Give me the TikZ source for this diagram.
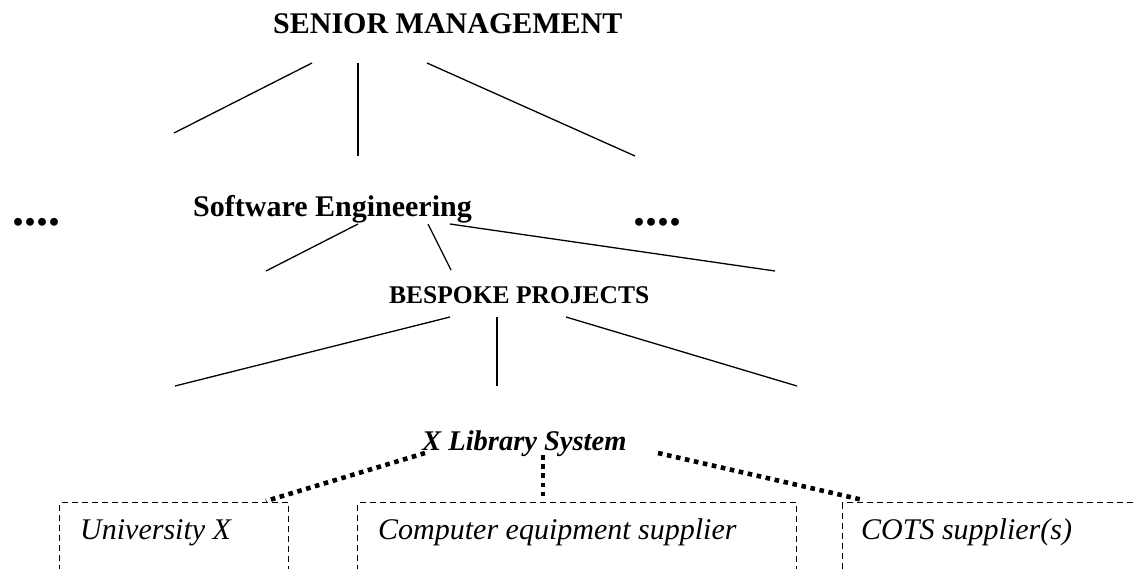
\documentclass[tikz,border=0pt]{standalone}
\usepackage{fontspec}
\setmainfont{Liberation Serif}
\begin{document}
\begin{tikzpicture}[x=1pt,y=-1pt,
  link/.style={line width=1.3pt},
  tie/.style={line width=4.6pt, dash pattern=on 4.6pt off 4.6pt},
  party/.style={draw, line width=1.2pt, dash pattern=on 6pt off 4pt, inner sep=0pt, anchor=north west},
  lbl/.style={inner sep=0pt, anchor=base west},
  head/.style={lbl, font=\fontsize{30}{30}\selectfont\bfseries},
  sub/.style={lbl, font=\fontsize{25.5}{25.5}\selectfont\bfseries},
  more/.style={lbl, font=\fontsize{48}{48}\selectfont\bfseries},
  sys/.style={lbl, font=\fontsize{28.5}{28.5}\selectfont\bfseries\itshape},
  who/.style={lbl, font=\fontsize{30}{30}\selectfont\itshape}]
\useasboundingbox (0,0) rectangle (1137,568);

% organisation levels
\node[head] (senior) at (273,33) {SENIOR MANAGEMENT};
\node[head] (swe) at (193,216) {Software Engineering};
\node[more] (moreL) at (12,225) {....};
\node[more] (moreR) at (633,225) {....};
\node[sub] (bespoke) at (389,303) {BESPOKE PROJECTS};
\node[sys] (xlib) at (422,450) {X Library System};

% external parties
\node[party, minimum width=229pt, minimum height=80pt] (uniBox) at (59,502) {};
\node[party, minimum width=439pt, minimum height=80pt] (ceqBox) at (357,502) {};
\node[party, minimum width=320pt, minimum height=80pt] (cotsBox) at (842,502) {};
\node[who] (uni) at (80,539) {University X};
\node[who] (ceq) at (378,539) {Computer equipment supplier};
\node[who] (cots) at (861,539) {COTS supplier(s)};

% line end points
\coordinate (sm1) at (312,63);  \coordinate (sm1e) at (174,133);
\coordinate (sm2) at (358,63);  \coordinate (sm2e) at (358,156);
\coordinate (sm3) at (427,63);  \coordinate (sm3e) at (635,156);
\coordinate (se1) at (358,224); \coordinate (se1e) at (266,271);
\coordinate (se2) at (428,224); \coordinate (se2e) at (451,270);
\coordinate (se3) at (450,224); \coordinate (se3e) at (775,271);
\coordinate (bp1) at (450,317); \coordinate (bp1e) at (175,386);
\coordinate (bp2) at (497,317); \coordinate (bp2e) at (497,386);
\coordinate (bp3) at (566,317); \coordinate (bp3e) at (797,386);
\coordinate (xl1) at (425,453); \coordinate (xl1e) at (266,501);
\coordinate (xl2) at (543,455); \coordinate (xl2e) at (543,497);
\coordinate (xl3) at (658,453); \coordinate (xl3e) at (863,500);

\draw[link] (sm1) -- (sm1e);
\draw[link] (sm2) -- (sm2e);
\draw[link] (sm3) -- (sm3e);
\draw[link] (se1) -- (se1e);
\draw[link] (se2) -- (se2e);
\draw[link] (se3) -- (se3e);
\draw[link] (bp1) -- (bp1e);
\draw[link] (bp2) -- (bp2e);
\draw[link] (bp3) -- (bp3e);

\draw[tie] (xl1) -- (xl1e);
\draw[tie] (xl2) -- (xl2e);
\draw[tie] (xl3) -- (xl3e);
\end{tikzpicture}
\end{document}
